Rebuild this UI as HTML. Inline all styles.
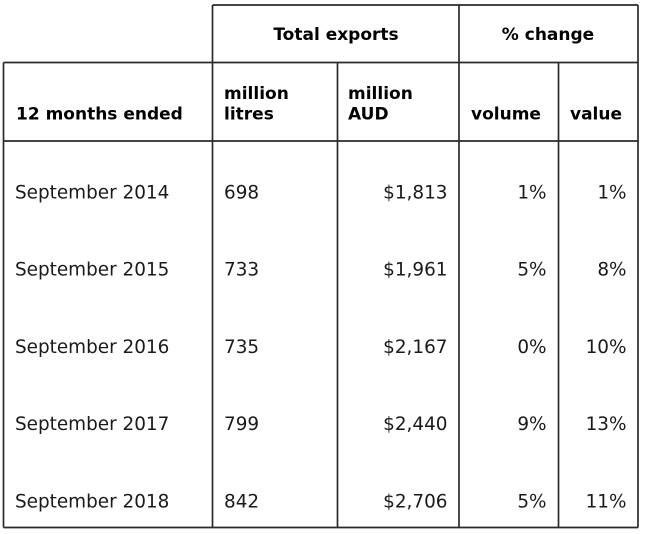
<!DOCTYPE html>
<html>
<head>
<meta charset="utf-8">
<style>
  html, body { margin: 0; padding: 0; background: #fff; }
  body { width: 650px; height: 534px; overflow: hidden; }
  svg { display: block; }
  .h { font-family: "DejaVu Sans", "Liberation Sans", sans-serif; font-weight: bold; font-size: 17px; fill: #000; }
  .d { font-family: "DejaVu Sans", "Liberation Sans", sans-serif; font-size: 18.4px; fill: #1a1a1a; }
</style>
</head>
<body>
<svg width="650" height="534" viewBox="0 0 650 534" xmlns="http://www.w3.org/2000/svg">
  <rect width="650" height="534" fill="#fff"/>
  <g stroke="#2a2a2a" stroke-width="1.7" fill="none">
    <line x1="212.5" y1="5" x2="638" y2="5"/>
    <line x1="3.5" y1="62.5" x2="638" y2="62.5"/>
    <line x1="3.5" y1="141" x2="638" y2="141"/>
    <line x1="3.5" y1="527.5" x2="638" y2="527.5"/>
    <line x1="3.5" y1="62.5" x2="3.5" y2="527.5"/>
    <line x1="212.5" y1="5" x2="212.5" y2="527.5"/>
    <line x1="337.5" y1="62.5" x2="337.5" y2="527.5"/>
    <line x1="459" y1="5" x2="459" y2="527.5"/>
    <line x1="558.5" y1="62.5" x2="558.5" y2="527.5"/>
    <line x1="638" y1="5" x2="638" y2="527.5"/>
  </g>

  <text class="h" x="336" y="40" text-anchor="middle">Total exports</text>
  <text class="h" x="548" y="40" text-anchor="middle">% change</text>

  <text class="h" x="16" y="119.5">12 months ended</text>
  <text class="h" x="224" y="99">million</text>
  <text class="h" x="224" y="119.5">litres</text>
  <text class="h" x="348" y="99">million</text>
  <text class="h" x="348" y="119.5">AUD</text>
  <text class="h" x="471" y="119.5">volume</text>
  <text class="h" x="570" y="119.5">value</text>

  <g>
    <text class="d" x="15" y="198.3">September 2014</text>
    <text class="d" x="224" y="198.3">698</text>
    <text class="d" x="447.5" y="198.3" text-anchor="end">$1,813</text>
    <text class="d" x="546.5" y="198.3" text-anchor="end">1%</text>
    <text class="d" x="626.5" y="198.3" text-anchor="end">1%</text>

    <text class="d" x="15" y="275.6">September 2015</text>
    <text class="d" x="224" y="275.6">733</text>
    <text class="d" x="447.5" y="275.6" text-anchor="end">$1,961</text>
    <text class="d" x="546.5" y="275.6" text-anchor="end">5%</text>
    <text class="d" x="626.5" y="275.6" text-anchor="end">8%</text>

    <text class="d" x="15" y="352.9">September 2016</text>
    <text class="d" x="224" y="352.9">735</text>
    <text class="d" x="447.5" y="352.9" text-anchor="end">$2,167</text>
    <text class="d" x="546.5" y="352.9" text-anchor="end">0%</text>
    <text class="d" x="626.5" y="352.9" text-anchor="end">10%</text>

    <text class="d" x="15" y="430.2">September 2017</text>
    <text class="d" x="224" y="430.2">799</text>
    <text class="d" x="447.5" y="430.2" text-anchor="end">$2,440</text>
    <text class="d" x="546.5" y="430.2" text-anchor="end">9%</text>
    <text class="d" x="626.5" y="430.2" text-anchor="end">13%</text>

    <text class="d" x="15" y="507.5">September 2018</text>
    <text class="d" x="224" y="507.5">842</text>
    <text class="d" x="447.5" y="507.5" text-anchor="end">$2,706</text>
    <text class="d" x="546.5" y="507.5" text-anchor="end">5%</text>
    <text class="d" x="626.5" y="507.5" text-anchor="end">11%</text>
  </g>
</svg>
</body>
</html>
